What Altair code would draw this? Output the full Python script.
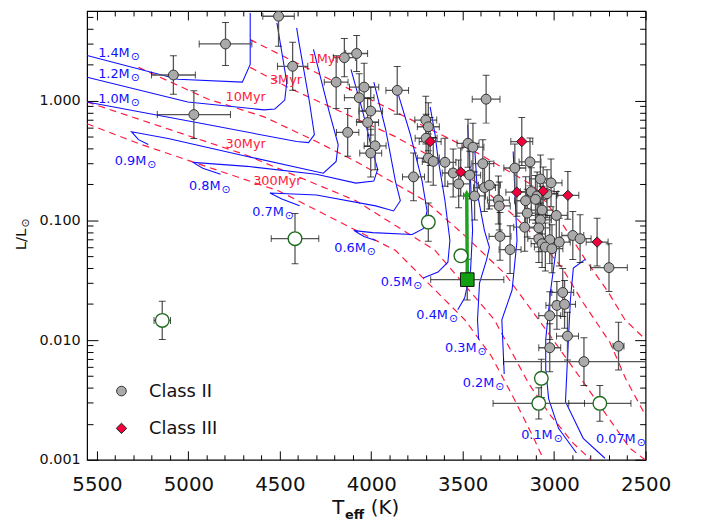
import altair as alt
import pandas as pd

FONT = "DejaVu Sans"
RED = "#ff1a40"
BLUE = "#1010ff"

# ---------------- data ----------------
c2_T = [4507, 4797, 4430, 5082, 4970, 4147, 4080, 4192, 4039, 4066, 3858, 3372, 4003, 4020, 4129,
        3979, 4003, 3702, 3688, 3700, 3471, 3444, 3688, 3661, 3597, 3390, 3769, 3552, 3462, 3215,
        3132, 3075, 3017, 3381, 3354, 3435, 3522, 3125, 3093, 3039, 3305, 3300, 3156, 3102, 3147,
        3066, 3075, 2988, 3161, 3084, 3296, 3084, 3024, 2972, 3066, 3048, 3012, 2898, 2858, 3241,
        2700, 2953, 2985, 2943, 3024, 2927, 3024, 2837, 2648]
c2_L = [5.08, 2.98, 1.94, 1.64, 0.766, 2.29, 2.48, 1.43, 1.30, 1.06, 1.22, 1.03, 0.82, 0.658, 0.544,
        0.42, 0.365, 0.689, 0.606, 0.486, 0.441, 0.409, 0.332, 0.311, 0.306, 0.298, 0.231, 0.249, 0.239, 0.274,
        0.308, 0.222, 0.206, 0.188, 0.197, 0.160, 0.202, 0.174, 0.160, 0.167, 0.148, 0.132, 0.146, 0.150, 0.115,
        0.122, 0.101, 0.110, 0.0877, 0.0866, 0.0735, 0.0704, 0.0690, 0.0659, 0.0639, 0.0599, 0.0580, 0.0748, 0.0704, 0.0570,
        0.0403, 0.0250, 0.0195, 0.0199, 0.0160, 0.0108, 0.00863, 0.00661, 0.0089]
c2_xe = [86, 144, 83, 120, 200, 60, 60, 65, 80, 81, 62, 76, 65, 60, 61] + [60] * 45 + \
        [100, 60, 60, 60, 60, 60, 60, 440, 30]
c2_ye = [0.25, 0.18, 0.20, 0.16, 0.20, 0.16, 0.15, 0.22] + [0.20] * 61

c3_T = [3678, 3511, 3177, 3204, 3060, 2925, 2765]
c3_L = [0.456, 0.254, 0.456, 0.172, 0.176, 0.162, 0.0659]
c3_xe = [60, 60, 60, 60, 60, 60, 60]
c3_ye = [0.2, 0.2, 0.2, 0.2, 0.2, 0.2, 0.2]

og_T = [5143, 4417, 3688, 3510, 3070, 3084, 2750]
og_L = [0.0146, 0.0704, 0.0968, 0.0506, 0.00479, 0.00296, 0.00296]
og_xe = [45, 130, 0, 0, 0, 250, 170]
og_ye = [0.16, 0.21, 0.16, 0.0, 0.16, 0.13, 0.15]

sq_T = [3475]
sq_L = [0.032]
sq_xe = [200]
sq_ye = [0.17]
arrow_T = [3475, 3478]
arrow_L = [0.036, 0.168]

# evolutionary tracks (blue): Teff list, L list
tracks = {
    "1.4": ([4662, 4662, 4705, 5057, 5554], [5.41, 2.01, 1.43, 1.51, 2.39]),
    "1.2": ([4516, 4489, 4462, 4473, 4527, 4586, 5003, 5554], [4.47, 2.53, 1.43, 1.013, 0.854, 0.838, 0.976, 1.57]),
    "1.0": ([4408, 4397, 4338, 4311, 4343, 4408, 4948, 5554], [4.06, 3.18, 0.976, 0.521, 0.447, 0.456, 0.654, 0.976]),
    "0.9": ([4316, 4230, 4181, 4192, 4262, 4678, 5111, 5311, 5273, 5219],
            [2.68, 0.807, 0.430, 0.311, 0.248, 0.3425, 0.483, 0.551, 0.473, 0.430]),
    "0.8": ([4111, 4046, 4003, 3965, 3986, 4084, 4300, 4678, 4976, 4921, 4824],
            [1.83, 0.807, 0.430, 0.2675, 0.213, 0.205, 0.243, 0.283, 0.3055, 0.2725, 0.243]),
    "0.7": ([3986, 3922, 3868, 3841, 3878, 3976, 4300, 4554, 4489, 4392],
            [1.43, 0.583, 0.213, 0.146, 0.120, 0.1323, 0.163, 0.1694, 0.151, 0.1323]),
    "0.6": ([3851, 3786, 3722, 3695, 3716, 3776, 3992, 4095, 4040, 3976],
            [1.115, 0.521, 0.213, 0.120, 0.0854, 0.0762, 0.0791, 0.0822, 0.0733, 0.0679]),
    "0.5": ([3678, 3651, 3635, 3597, 3570, 3581, 3635, 3716],
            [0.887, 0.521, 0.330, 0.146, 0.0679, 0.0447, 0.0370, 0.0330]),
    "0.4": ([3473, 3457, 3446, 3457, 3489, 3527], [0.630, 0.213, 0.0822, 0.0384, 0.02254, 0.0179]),
    "0.3": ([3435, 3419, 3381, 3354, 3370, 3408, 3419, 3413],
            [0.414, 0.166, 0.0822, 0.0595, 0.0465, 0.0300, 0.0148, 0.0101]),
    "0.2": ([3224, 3203, 3230, 3286, 3273], [0.377, 0.0679, 0.0262, 0.0148, 0.00521]),
    "0.1": ([2986, 3019, 3046, 3046, 3030, 2976, 2878], [0.0621, 0.0262, 0.0101, 0.00572, 0.00323, 0.00183, 0.00114]),
    "0.07": ([2830, 2895, 2911, 2922, 2938, 2841, 2722], [0.0473, 0.0399, 0.0217, 0.0101, 0.00306, 0.00151, 0.00103]),
}

# isochrones (red dashed)
isochrones = {
    "1": ([4662, 4338, 3868, 3435, 3111, 2949, 2830, 2705, 2613, 2500],
          [3.24, 1.83, 0.807, 0.377, 0.1936, 0.0905, 0.0473, 0.0253, 0.0148, 0.0101]),
    "3": ([4662, 4446, 3868, 3435, 3219, 3084, 2959, 2841, 2695, 2608, 2500],
          [1.90, 1.27, 0.501, 0.213, 0.1093, 0.0679, 0.0407, 0.0205, 0.00957, 0.00473, 0.00234]),
    "10": ([5273, 4894, 4586, 4300, 4084, 3705, 3489, 3273, 3165, 3073, 2841, 2586, 2500],
           [1.90, 1.033, 0.733, 0.456, 0.311, 0.146, 0.0747, 0.0363, 0.0217, 0.0140, 0.00447, 0.00125, 0.000994]),
    "30": ([5554, 4694, 4084, 3651, 3327, 3138, 3019, 2895, 2797],
           [0.976, 0.356, 0.146, 0.0562, 0.0148, 0.00430, 0.00234, 0.00137, 0.000994]),
    "300": ([5554, 5273, 4505, 3868, 3489, 3343, 3219, 3111, 3057],
            [0.642, 0.4386, 0.176, 0.0562, 0.0148, 0.00733, 0.00323, 0.00151, 0.000994]),
}

mass_text = ["1.4M", "1.2M", "1.0M", "0.9M", "0.8M", "0.7M", "0.6M", "0.5M", "0.4M", "0.3M", "0.2M", "0.1M", "0.07M"]
mass_T = [5321, 5321, 5321, 5230, 4824, 4478, 4030, 3776, 3581, 3424, 3327, 3008, 2554]
mass_L = [2.30, 1.54, 0.957, 0.2886, 0.1795, 0.1094, 0.0541, 0.0283, 0.0151, 0.00791, 0.00406, 0.00148, 0.00137]

age_text = ["1Myr", "3Myr", "10Myr", "30Myr", "300Myr"]
age_T = [4343, 4554, 4797, 4797, 4646]
age_L = [2.05, 1.374, 0.994, 0.399, 0.197]

leg_T = [5366]
leg_L = [0.00375, 0.00183]
leg_text_T = [5215]
leg_text_L = [0.00336, 0.00163]
leg_text = ["Class  II", "Class  III"]

x_major = [2500, 3000, 3500, 4000, 4500, 5000, 5500]
x_minor = [t for t in range(2600, 5600, 100) if t % 500 != 0]
y_major = [0.001, 0.01, 0.1, 1.0]
y_minor = [k * 10.0 ** e for e in (-3, -2, -1, 0) for k in range(2, 10) if k * 10.0 ** e < 5.6]

W, H = 565, 454
xs = alt.Scale(domain=[2500, 5554], reverse=True, nice=False, zero=False)
ys = alt.Scale(type="log", domain=[0.001, 5.62], nice=False)


def ex(field="T"):
    return alt.X(f"{field}:Q", scale=xs, axis=None)


def ey(field="L"):
    return alt.Y(f"{field}:Q", scale=ys, axis=None)


def err_frames(T, L, xe, ye):
    rows, caps_v, caps_h = [], [], []
    for t, l, a, b in zip(T, L, xe, ye):
        lo, hi = l / 10 ** b, l * 10 ** b
        rows.append(dict(T=t, L=l, Tlo=t - a, Thi=t + a, Llo=lo, Lhi=hi, hx=a > 0, hy=b > 0))
        if a > 0:
            caps_v += [dict(T=t - a, L=l), dict(T=t + a, L=l)]
        if b > 0:
            caps_h += [dict(T=t, L=lo), dict(T=t, L=hi)]
    return pd.DataFrame(rows), pd.DataFrame(caps_v), pd.DataFrame(caps_h)


def err_layers(T, L, xe, ye, color):
    df, cv, ch = err_frames(T, L, xe, ye)
    out = []
    dx = df[df.hx]
    dy = df[df.hy]
    if len(dx):
        out.append(alt.Chart(dx).mark_rule(color=color, strokeWidth=1.3, clip=True).encode(
            x=ex("Tlo"), x2="Thi:Q", y=ey("L")))
        out.append(alt.Chart(cv).mark_tick(orient="vertical", color="black", size=7, thickness=1, clip=True).encode(
            x=ex("T"), y=ey("L")))
    if len(dy):
        out.append(alt.Chart(dy).mark_rule(color=color, strokeWidth=1.3, clip=True).encode(
            x=ex("T"), y=ey("Llo"), y2="Lhi:Q"))
        out.append(alt.Chart(ch).mark_tick(orient="horizontal", color="black", size=7, thickness=1, clip=True).encode(
            x=ex("T"), y=ey("L")))
    return out


def curves_df(d, key):
    rows = []
    for name, (T, L) in d.items():
        for i, (t, l) in enumerate(zip(T, L)):
            rows.append({key: name, "i": i, "T": t, "L": l})
    return pd.DataFrame(rows)


layers = []

iso_df = curves_df(isochrones, "age")
layers.append(alt.Chart(iso_df).mark_line(color=RED, strokeDash=[7, 5], strokeWidth=1.2, clip=True).encode(
    x=ex(), y=ey(), detail="age:N", order="i:Q"))

trk_df = curves_df(tracks, "mass")
layers.append(alt.Chart(trk_df).mark_line(color=BLUE, strokeWidth=1.1, clip=True).encode(
    x=ex(), y=ey(), detail="mass:N", order="i:Q"))

layers += err_layers(c2_T, c2_L, c2_xe, c2_ye, "#555555")
layers += err_layers(c3_T, c3_L, c3_xe, c3_ye, "#555555")
layers += err_layers(og_T, og_L, og_xe, og_ye, "#555555")
layers += err_layers(sq_T, sq_L, sq_xe, sq_ye, "#555555")

arrow_df = pd.DataFrame({"T": [arrow_T[0]], "L": [arrow_L[0]], "T2": [arrow_T[1]], "L2": [arrow_L[1]]})
layers.append(alt.Chart(arrow_df).mark_rule(color="#22a022", strokeWidth=3.5).encode(
    x=ex("T"), x2="T2:Q", y=ey("L"), y2="L2:Q"))
head_df = pd.DataFrame({"T": [arrow_T[1]], "L": [arrow_L[1]]})
layers.append(alt.Chart(head_df).mark_point(shape="triangle-up", filled=True, color="#22a022", size=70, opacity=1).encode(
    x=ex(), y=ey()))

c2_df = pd.DataFrame({"T": c2_T, "L": c2_L})
layers.append(alt.Chart(c2_df).mark_point(shape="circle", filled=True, fill="#aaaaaa", stroke="#333333",
                                          strokeWidth=1, size=100, opacity=1, clip=True).encode(x=ex(), y=ey()))
c3_df = pd.DataFrame({"T": c3_T, "L": c3_L})
layers.append(alt.Chart(c3_df).mark_point(shape="diamond", filled=True, fill="#f0003c", stroke="#222222",
                                          strokeWidth=1, size=110, opacity=1).encode(x=ex(), y=ey()))
og_df = pd.DataFrame({"T": og_T, "L": og_L})
layers.append(alt.Chart(og_df).mark_point(shape="circle", filled=True, fill="white", stroke="#1f6b1f",
                                          strokeWidth=1.4, size=190, opacity=1).encode(x=ex(), y=ey()))
sq_df = pd.DataFrame({"T": sq_T, "L": sq_L})
layers.append(alt.Chart(sq_df).mark_point(shape="square", filled=True, fill="#10a010", stroke="#111111",
                                          strokeWidth=1, size=190, opacity=1).encode(x=ex(), y=ey()))

mass_df = pd.DataFrame({"T": mass_T, "L": mass_L, "txt": mass_text})
layers.append(alt.Chart(mass_df).mark_text(align="right", baseline="alphabetic", font=FONT, fontSize=13,
                                           color=BLUE).encode(x=ex(), y=ey(), text="txt:N"))
layers.append(alt.Chart(mass_df).mark_text(align="left", baseline="alphabetic", font=FONT, fontSize=11,
                                           color=BLUE, dx=1, dy=3).encode(x=ex(), y=ey(), text=alt.value("\u2299")))
age_df = pd.DataFrame({"T": age_T, "L": age_L, "txt": age_text})
layers.append(alt.Chart(age_df).mark_text(align="left", baseline="alphabetic", font=FONT, fontSize=13,
                                          color=RED).encode(x=ex(), y=ey(), text="txt:N"))

leg_c = pd.DataFrame({"T": leg_T, "L": [leg_L[0]]})
leg_d = pd.DataFrame({"T": leg_T, "L": [leg_L[1]]})
layers.append(alt.Chart(leg_c).mark_point(shape="circle", filled=True, fill="#aaaaaa", stroke="#333333",
                                          strokeWidth=1, size=95, opacity=1).encode(x=ex(), y=ey()))
layers.append(alt.Chart(leg_d).mark_point(shape="diamond", filled=True, fill="#f0003c", stroke="#222222",
                                          strokeWidth=1, size=110, opacity=1).encode(x=ex(), y=ey()))
leg_t = pd.DataFrame({"T": leg_text_T * 2, "L": leg_text_L, "txt": leg_text})
layers.append(alt.Chart(leg_t).mark_text(align="left", baseline="alphabetic", font=FONT, fontSize=18,
                                         color="#111111").encode(x=ex(), y=ey(), text="txt:N"))

one = pd.DataFrame({"a": [0]})
layers.append(alt.Chart(one).mark_text(align="left", baseline="alphabetic", font=FONT, fontSize=20,
                                       color="#111111").encode(x=alt.value(248), y=alt.value(509), text=alt.value("T")))
layers.append(alt.Chart(one).mark_text(align="left", baseline="alphabetic", font=FONT, fontSize=13,
                                       fontWeight="bold", color="#111111").encode(x=alt.value(261), y=alt.value(514), text=alt.value("eff")))
layers.append(alt.Chart(one).mark_text(align="left", baseline="alphabetic", font=FONT, fontSize=20,
                                       color="#111111").encode(x=alt.value(287), y=alt.value(509), text=alt.value("(K)")))
layers.append(alt.Chart(one).mark_text(align="left", baseline="alphabetic", font=FONT, fontSize=15, angle=270,
                                       color="#111111").encode(x=alt.value(-62), y=alt.value(242), text=alt.value("L/L")))
layers.append(alt.Chart(one).mark_text(align="left", baseline="alphabetic", font=FONT, fontSize=11, angle=270,
                                       color="#111111").encode(x=alt.value(-59), y=alt.value(219), text=alt.value("\u2299")))

dummy = pd.DataFrame({"T": [3000], "L": [0.1]})
layers.append(alt.Chart(dummy).mark_point(opacity=0).encode(
    x=alt.X("T:Q", scale=xs, axis=alt.Axis(orient="bottom", values=x_major, format="d", ticks=False, domain=False,
                                           grid=False, title=None, labelFont=FONT, labelFontSize=20,
                                           labelColor="#111111", labelPadding=15, labelOverlap=False,
                                           labelFlush=False)),
    y=alt.Y("L:Q", scale=ys, axis=alt.Axis(orient="left", values=y_major, format=".3f", ticks=False, domain=False,
                                           grid=False, title=None, labelFont=FONT, labelFontSize=14.5,
                                           labelColor="#111111", labelPadding=7, labelOverlap=False,
                                           labelFlush=False))))


def xt(orient, vals, size):
    return alt.Chart(dummy).mark_point(opacity=0).encode(
        x=alt.X("T:Q", scale=xs, axis=alt.Axis(orient=orient, values=vals, tickSize=size, offset=-size, labels=False,
                                               domain=False, grid=False, title=None, tickColor="black", tickWidth=1)),
        y=alt.Y("L:Q", scale=ys, axis=None))


def yt(orient, vals, size):
    return alt.Chart(dummy).mark_point(opacity=0).encode(
        x=alt.X("T:Q", scale=xs, axis=None),
        y=alt.Y("L:Q", scale=ys, axis=alt.Axis(orient=orient, values=vals, tickSize=size, offset=-size, labels=False,
                                               domain=False, grid=False, title=None, tickColor="black", tickWidth=1)))


layers += [xt("bottom", x_major, 9), xt("bottom", x_minor, 5), xt("top", x_major, 9), xt("top", x_minor, 5),
           yt("left", y_major, 11), yt("left", y_minor, 6), yt("right", y_major, 11), yt("right", y_minor, 6)]

chart = alt.layer(*layers).resolve_axis(x="independent", y="independent").properties(
    width=W, height=H,
    padding={"left": 80, "top": 0, "right": 50, "bottom": 66},
    autosize=alt.AutoSizeParams(type="none"),
).configure_view(stroke="black", strokeWidth=1.2)

chart.save("out.html", embed_options={"renderer": "svg", "actions": False})
